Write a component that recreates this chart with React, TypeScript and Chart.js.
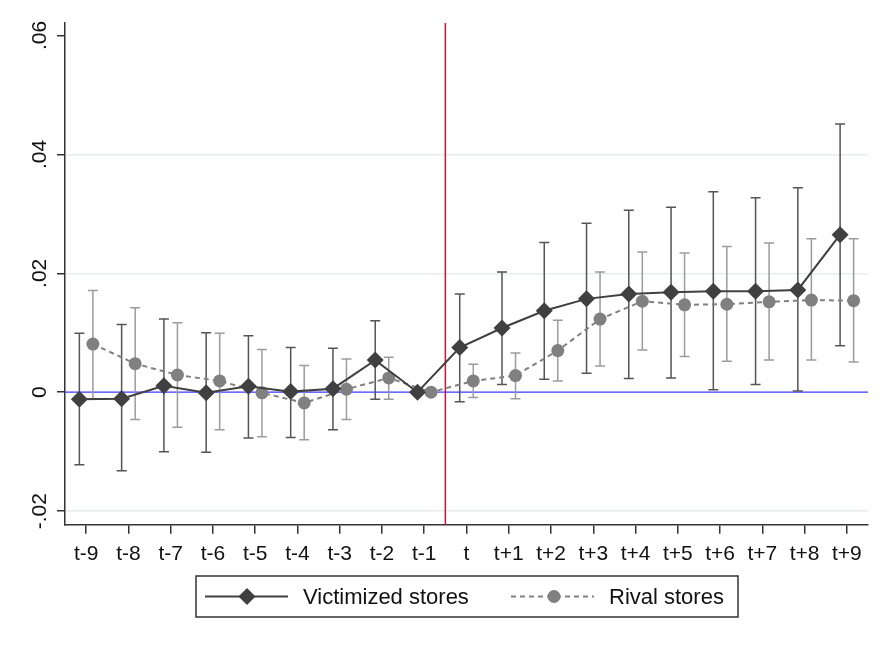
import React, { useEffect, useRef } from "react";
import { Chart, registerables } from "chart.js";

Chart.register(...registerables);

const categories = ["t-9", "t-8", "t-7", "t-6", "t-5", "t-4", "t-3", "t-2", "t-1", "t", "t+1", "t+2", "t+3", "t+4", "t+5", "t+6", "t+7", "t+8", "t+9"];

const victimized = [-0.0012, -0.0011, 0.0011, -0.0001, 0.0010, 0.0001, 0.0006, 0.0054, 0, 0.0075, 0.0108, 0.0137, 0.0157, 0.0165, 0.0168, 0.0170, 0.0170, 0.0172, 0.0265];
const victimizedLo = [-0.0122, -0.0132, -0.0100, -0.0101, -0.0077, -0.0076, -0.0063, -0.0012, null, -0.0016, 0.0013, 0.0022, 0.0032, 0.0023, 0.0024, 0.0004, 0.0013, 0.0002, 0.0078];
const victimizedHi = [0.0099, 0.0114, 0.0123, 0.0100, 0.0095, 0.0075, 0.0074, 0.0120, null, 0.0165, 0.0202, 0.0252, 0.0284, 0.0306, 0.0311, 0.0337, 0.0327, 0.0344, 0.0451];

const rival = [0.0081, 0.0048, 0.0029, 0.0019, -0.0001, -0.0018, 0.0005, 0.0024, 0, 0.0019, 0.0028, 0.0070, 0.0123, 0.0153, 0.0147, 0.0148, 0.0152, 0.0155, 0.0154];
const rivalLo = [-0.0011, -0.0046, -0.0059, -0.0063, -0.0075, -0.0080, -0.0046, -0.0012, null, -0.0009, -0.0011, 0.0019, 0.0044, 0.0071, 0.0060, 0.0052, 0.0054, 0.0054, 0.0051];
const rivalHi = [0.0171, 0.0142, 0.0117, 0.0099, 0.0072, 0.0045, 0.0056, 0.0059, null, 0.0047, 0.0066, 0.0121, 0.0202, 0.0236, 0.0234, 0.0245, 0.0251, 0.0258, 0.0258];

const seriesNames = ["Victimized stores", "Rival stores"];
const eventLine = 8.5; // between t-1 and t
const yTickStep = 0.02;

const FONT = "'Liberation Sans', Arial, sans-serif";
const V_COLOR = "#404040";
const R_COLOR = "#808080";
const V_BAR = "#555555";
const R_BAR = "#9c9c9c";
const OFFSET = 0.16;

function fmtY(v: number): string {
  if (Math.abs(v) < 1e-9) return "0";
  const s = Math.round(Math.abs(v) * 100).toString().padStart(2, "0");
  return (v < 0 ? "-" : "") + "." + s;
}

const customPlugin = {
  id: "custom",
  beforeDatasetsDraw(chart: any) {
    const { ctx, chartArea, scales } = chart;
    const xs = scales.x;
    const ys = scales.y;
    ctx.save();
    // zero reference line
    const zy = ys.getPixelForValue(0);
    ctx.strokeStyle = "#3a3aff";
    ctx.lineWidth = 1.3;
    ctx.beginPath();
    ctx.moveTo(chartArea.left, zy);
    ctx.lineTo(chartArea.right, zy);
    ctx.stroke();
    // event line
    const ex = xs.getPixelForValue(eventLine);
    ctx.strokeStyle = "#c8143c";
    ctx.lineWidth = 1.5;
    ctx.beginPath();
    ctx.moveTo(ex, chartArea.top);
    ctx.lineTo(ex, chartArea.bottom);
    ctx.stroke();
    const drawBars = (lo: (number | null)[], hi: (number | null)[], off: number, color: string) => {
      ctx.strokeStyle = color;
      ctx.lineWidth = 1.5;
      for (let i = 0; i < categories.length; i++) {
        const l = lo[i];
        const h = hi[i];
        if (l === null || h === null) continue;
        const x = xs.getPixelForValue(i + off);
        const y1 = ys.getPixelForValue(l);
        const y2 = ys.getPixelForValue(h);
        ctx.beginPath();
        ctx.moveTo(x, y1);
        ctx.lineTo(x, y2);
        ctx.moveTo(x - 5, y1);
        ctx.lineTo(x + 5, y1);
        ctx.moveTo(x - 5, y2);
        ctx.lineTo(x + 5, y2);
        ctx.stroke();
      }
    };
    drawBars(rivalLo, rivalHi, OFFSET, R_BAR);
    drawBars(victimizedLo, victimizedHi, -OFFSET, V_BAR);
    ctx.restore();
  },
  afterDraw(chart: any) {
    const { ctx, scales } = chart;
    const ys = scales.y;
    ctx.save();
    ctx.fillStyle = "#111";
    ctx.font = `21px ${FONT}`;
    ctx.textAlign = "center";
    ctx.textBaseline = "middle";
    for (const t of ys.ticks) {
      const y = ys.getPixelForValue(t.value);
      ctx.save();
      ctx.translate(40, y);
      ctx.rotate(-Math.PI / 2);
      ctx.fillText(fmtY(t.value), 0, 0);
      ctx.restore();
    }
    const bx = 196, by = 576, bw = 542, bh = 41;
    ctx.strokeStyle = "#333";
    ctx.lineWidth = 1.5;
    ctx.strokeRect(bx, by, bw, bh);
    const cy = by + bh / 2;
    ctx.strokeStyle = V_COLOR;
    ctx.lineWidth = 2;
    ctx.beginPath();
    ctx.moveTo(205, cy);
    ctx.lineTo(288, cy);
    ctx.stroke();
    ctx.fillStyle = V_COLOR;
    ctx.beginPath();
    ctx.moveTo(247, cy - 8.5);
    ctx.lineTo(255.5, cy);
    ctx.lineTo(247, cy + 8.5);
    ctx.lineTo(238.5, cy);
    ctx.closePath();
    ctx.fill();
    ctx.strokeStyle = R_COLOR;
    ctx.setLineDash([5, 4]);
    ctx.beginPath();
    ctx.moveTo(511, cy);
    ctx.lineTo(594, cy);
    ctx.stroke();
    ctx.setLineDash([]);
    ctx.fillStyle = R_COLOR;
    ctx.beginPath();
    ctx.arc(554, cy, 6.5, 0, Math.PI * 2);
    ctx.fill();
    ctx.fillStyle = "#111";
    ctx.font = `22px ${FONT}`;
    ctx.textAlign = "left";
    ctx.textBaseline = "middle";
    ctx.fillText(seriesNames[0], 303, cy + 1);
    ctx.fillText(seriesNames[1], 609, cy + 1);
    ctx.restore();
  },
};

export default function App() {
  const ref = useRef<HTMLCanvasElement | null>(null);
  useEffect(() => {
    if (!ref.current) return;
    const chart = new Chart(ref.current, {
      type: "line",
      data: {
        datasets: [
          {
            label: seriesNames[0],
            data: victimized.map((v, i) => ({ x: i - OFFSET, y: v })),
            borderColor: V_COLOR,
            backgroundColor: V_COLOR,
            borderWidth: 2,
            pointStyle: "rectRot",
            pointRadius: 8.5,
            pointBorderWidth: 0,
            pointBackgroundColor: V_COLOR,
          },
          {
            label: seriesNames[1],
            data: rival.map((v, i) => ({ x: i + OFFSET, y: v })),
            borderColor: R_COLOR,
            backgroundColor: R_COLOR,
            borderWidth: 2,
            borderDash: [5, 4],
            pointStyle: "circle",
            pointRadius: 6.5,
            pointBorderWidth: 0,
            pointBackgroundColor: R_COLOR,
          },
        ],
      },
      options: {
        animation: false,
        responsive: true,
        maintainAspectRatio: false,
        layout: { padding: { left: 57, right: 23, top: 23, bottom: 73 } },
        plugins: { legend: { display: false }, tooltip: { enabled: false } },
        scales: {
          x: {
            type: "linear",
            min: -0.5,
            max: 18.5,
            afterBuildTicks: (scale: any) => {
              scale.ticks = categories.map((_, i) => ({ value: i }));
            },
            grid: { drawOnChartArea: false, drawTicks: true, tickLength: 9, color: "#333", lineWidth: 1.5 },
            border: { color: "#333", width: 1.5 },
            ticks: {
              autoSkip: false,
              maxRotation: 0,
              minRotation: 0,
              padding: 8,
              color: "#111",
              font: { size: 21, family: FONT },
              callback: (v: any) => {
                const i = Math.round(Number(v));
                return categories[i] ?? "";
              },
            },
          },
          y: {
            type: "linear",
            min: -0.0223,
            max: 0.0621,
            border: { color: "#333", width: 1.5 },
            grid: {
              drawTicks: true,
              tickLength: 8,
              tickColor: "#333",
              color: (c: any) => {
                const v = c.tick ? c.tick.value : 1;
                if (Math.abs(v) < 1e-9) return "rgba(0,0,0,0)";
                if (v > 0.05) return "rgba(0,0,0,0)";
                return "#e6eeef";
              },
              lineWidth: 1.5,
            },
            ticks: { display: false, stepSize: yTickStep, includeBounds: false },
          },
        },
      },
      plugins: [customPlugin],
    } as any);
    return () => chart.destroy();
  }, []);
  return (
    <div style={{ position: "fixed", left: 0, top: 0, width: 891, height: 648, background: "#fff" }}>
      <canvas ref={ref} />
    </div>
  );
}
